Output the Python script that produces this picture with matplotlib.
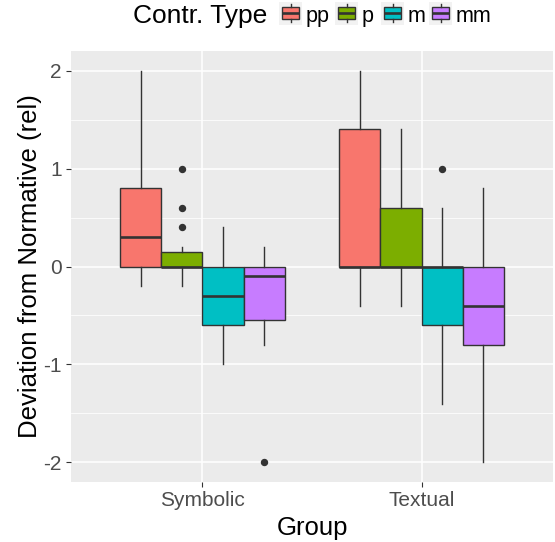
import matplotlib
matplotlib.use("Agg")
import matplotlib.pyplot as plt
from matplotlib.patches import Rectangle
from matplotlib.lines import Line2D

plt.rcParams['font.family'] = ['Liberation Sans', 'DejaVu Sans']

# ---------------- data ----------------
groups = ["Symbolic", "Textual"]
types = ["pp", "p", "m", "mm"]
colors = ["#F8766D", "#7CAE00", "#00BFC4", "#C77CFF"]

# per group: lists ordered as types
whislo = {"Symbolic": [-0.2, -0.2, -1.0, -0.8], "Textual": [-0.4, -0.4, -1.4, -2.0]}
q1     = {"Symbolic": [0.0, 0.0, -0.6, -0.55], "Textual": [0.0, 0.0, -0.6, -0.8]}
med    = {"Symbolic": [0.3, 0.0, -0.3, -0.1], "Textual": [0.0, 0.0, 0.0, -0.4]}
q3     = {"Symbolic": [0.8, 0.15, 0.0, 0.0], "Textual": [1.4, 0.6, 0.0, 0.0]}
whishi = {"Symbolic": [2.0, 0.2, 0.4, 0.2], "Textual": [2.0, 1.4, 0.6, 0.8]}
fliers = {"Symbolic": [[], [0.4, 0.6, 1.0], [], [-2.0]],
          "Textual": [[], [], [1.0], []]}

yticks = [-2, -1, 0, 1, 2]
ylabel = "Deviation from Normative (rel)"
xlabel = "Group"
legend_title = "Contr. Type"

# ---------------- figure ----------------
W, H = 555, 542
fig = plt.figure(figsize=(W / 100, H / 100), dpi=100)
fig.patch.set_facecolor("white")

def fx(px):
    return px / W

def fy(py):
    return 1 - py / H

pl, pr, pt, pb = 71, 553, 51, 482
ax = fig.add_axes([fx(pl), fy(pb), (pr - pl) / W, (pb - pt) / H])
ax.set_facecolor("#EBEBEB")
for s in ax.spines.values():
    s.set_visible(False)

ax.set_xlim(0.4, 2.6)
ax.set_ylim(-2.2, 2.2)

# grid
for y in [-1.5, -0.5, 0.5, 1.5]:
    ax.axhline(y, color="white", lw=0.55, zorder=0)
for y in yticks:
    ax.axhline(y, color="white", lw=1.1, zorder=0)
for i in range(len(groups)):
    ax.axvline(i + 1, color="white", lw=1.1, zorder=0)

dodge = 0.75
bw = dodge / len(types)
stats = []
positions = []
for gi, g in enumerate(groups):
    for ti, t in enumerate(types):
        positions.append(gi + 1 - dodge / 2 + bw * (ti + 0.5))
        stats.append(dict(whislo=whislo[g][ti], q1=q1[g][ti], med=med[g][ti],
                          q3=q3[g][ti], whishi=whishi[g][ti], fliers=fliers[g][ti],
                          label=t))

edge = "#333333"
bp = ax.bxp(stats, positions=positions, widths=bw, patch_artist=True,
            showcaps=False, manage_ticks=False,
            boxprops=dict(edgecolor=edge, linewidth=1.0),
            whiskerprops=dict(color=edge, linewidth=1.0),
            medianprops=dict(color=edge, linewidth=1.9, solid_capstyle="butt"),
            flierprops=dict(marker="o", markerfacecolor=edge, markeredgecolor=edge,
                            markersize=4.3, linestyle="none"))
for i, patch in enumerate(bp["boxes"]):
    patch.set_facecolor(colors[i % len(types)])
    patch.set_zorder(2)
for m in bp["medians"]:
    m.set_zorder(3)

ax.set_yticks(yticks)
ax.set_yticklabels([str(v) for v in yticks])
ax.set_xticks(range(1, len(groups) + 1))
ax.set_xticklabels(groups)
ax.tick_params(axis="both", colors="#333333", length=3.8, width=0.8,
               labelsize=15, labelcolor="#4D4D4D", pad=3)

ax.set_xlabel(xlabel, fontsize=18.5, color="black", labelpad=4)
ax.set_ylabel(ylabel, fontsize=18.5, color="black", labelpad=1)

# ---------------- legend (top, horizontal) ----------------
fig.text(fx(133), fy(23), legend_title, fontsize=19, ha="left", va="baseline")
key_left = [279, 335, 381, 429]
ks = 23
ktop = 1.5
for i, t in enumerate(types):
    x0 = key_left[i]
    fig.add_artist(Rectangle((fx(x0), fy(ktop + ks)), ks / W, ks / H,
                             transform=fig.transFigure, facecolor="#F2F2F2",
                             edgecolor="none"))
    bx0 = x0 + ks * 0.125
    bx1 = x0 + ks * 0.875
    by0 = ktop + ks * 0.25
    by1 = ktop + ks * 0.75
    cx = x0 + ks / 2
    fig.add_artist(Line2D([fx(cx), fx(cx)], [fy(ktop + ks * 0.1), fy(by0)],
                          transform=fig.transFigure, color=edge, lw=1.0))
    fig.add_artist(Line2D([fx(cx), fx(cx)], [fy(by1), fy(ktop + ks * 0.9)],
                          transform=fig.transFigure, color=edge, lw=1.0))
    fig.add_artist(Rectangle((fx(bx0), fy(by1)), (bx1 - bx0) / W, (by1 - by0) / H,
                             transform=fig.transFigure, facecolor=colors[i],
                             edgecolor=edge, lw=1.0))
    fig.add_artist(Line2D([fx(bx0), fx(bx1)], [fy(ktop + ks / 2)] * 2,
                          transform=fig.transFigure, color=edge, lw=1.9,
                          solid_capstyle="butt"))
    fig.text(fx(x0 + ks + 4), fy(22), t, fontsize=15.5, ha="left", va="baseline")

fig.savefig("out.png", dpi=100, facecolor="white")
